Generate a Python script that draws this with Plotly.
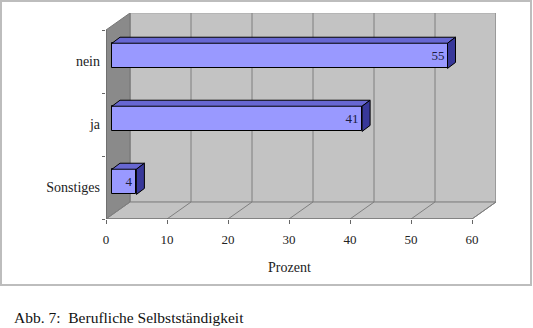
import plotly.graph_objects as go

# ---- data ----
categories = ["Sonstiges", "ja", "nein"]
values = [4, 41, 55]
x_ticks = [0, 10, 20, 30, 40, 50, 60]
x_title = "Prozent"
caption = "Abb. 7:  Berufliche Selbstständigkeit"

# ---- geometry ----
W, H = 533, 328
L, R, T, B = 106, 37, 13, 109
PW, PH = W - L - R, H - T - B
XMAX = 60
DX = PW / 6.1 - XMAX          # depth offset in x units
NCAT = len(categories)
YMIN = -0.5
DY = (PH - 63 * NCAT) / 63.0  # depth offset in y units
YMAX = NCAT - 0.5 + DY

B0 = 6 / 6.1        # bar front start
YOFF = 0.09          # bar front vertical offset (depth)
BW = 0.40            # bar thickness
BDX = 8 / 6.1        # bar depth in x
BDY = 6 / 63.0       # bar depth in y

FONT = "Liberation Serif"
WALL = "#C3C3C3"
SIDEWALL = "#8A8A8A"
GRID = "#7F7F7F"
FRONT = "#9999FF"
TOP = "#6767D2"
SIDE = "#38389A"


def xp(px):
    return (px - L) / PW


def yp(py):
    return (H - B - py) / PH


fig = go.Figure()

ypos = [i + YOFF for i in range(NCAT)]

# front faces
fig.add_trace(go.Bar(
    y=ypos, x=values, base=[B0] * NCAT, orientation="h", width=BW,
    marker=dict(color=FRONT, line=dict(color="black", width=1)),
    text=[str(v) for v in values], textposition="inside",
    insidetextanchor="end", textangle=0,
    textfont=dict(family=FONT, size=13, color="#1C1C40"),
    hoverinfo="skip", showlegend=False,
))

# top and side faces
for y, v in zip(ypos, values):
    x0, x1 = B0, B0 + v
    ytop, ybot = y + BW / 2, y - BW / 2
    fig.add_trace(go.Scatter(
        x=[x0, x1, x1 + BDX, x0 + BDX, x0],
        y=[ytop, ytop, ytop + BDY, ytop + BDY, ytop],
        mode="lines", fill="toself", fillcolor=TOP,
        line=dict(color="black", width=1), hoverinfo="skip", showlegend=False))
    fig.add_trace(go.Scatter(
        x=[x1, x1 + BDX, x1 + BDX, x1, x1],
        y=[ybot, ybot + BDY, ytop + BDY, ytop, ybot],
        mode="lines", fill="toself", fillcolor=SIDE,
        line=dict(color="black", width=1), hoverinfo="skip", showlegend=False))

shapes = []
# back wall
shapes.append(dict(type="rect", xref="x", yref="y", x0=DX, x1=XMAX + DX,
                   y0=YMIN + DY, y1=YMAX, fillcolor=WALL,
                   line=dict(color="#A8A8A8", width=1), layer="below"))
# left wall
shapes.append(dict(type="path", xref="x", yref="y",
                   path=f"M 0 {YMIN} L 0 {NCAT - 0.5} L {DX} {YMAX} L {DX} {YMIN + DY} Z",
                   fillcolor=SIDEWALL, line=dict(color="#777777", width=1), layer="below"))
# floor
shapes.append(dict(type="path", xref="x", yref="y",
                   path=f"M 0 {YMIN} L {XMAX} {YMIN} L {XMAX + DX} {YMIN + DY} L {DX} {YMIN + DY} Z",
                   fillcolor=WALL, line=dict(color=GRID, width=1), layer="below"))
# gridlines on back wall and floor
for v in x_ticks:
    shapes.append(dict(type="line", xref="x", yref="y", x0=v + DX, x1=v + DX,
                       y0=YMIN + DY, y1=YMAX, line=dict(color=GRID, width=1), layer="below"))
    shapes.append(dict(type="line", xref="x", yref="y", x0=v, x1=v + DX,
                       y0=YMIN, y1=YMIN + DY, line=dict(color=GRID, width=1), layer="below"))
# front floor edge (axis line) and left axis line
shapes.append(dict(type="line", xref="x", yref="y", x0=0, x1=XMAX, y0=YMIN, y1=YMIN,
                   line=dict(color="#666666", width=1.2), layer="below"))
shapes.append(dict(type="line", xref="x", yref="y", x0=0, x1=0, y0=YMIN, y1=NCAT - 0.5,
                   line=dict(color="#666666", width=1.2), layer="below"))
# outer frame
shapes.append(dict(type="rect", xref="paper", yref="paper",
                   x0=xp(1), x1=xp(531), y0=yp(285), y1=yp(1),
                   line=dict(color="#BDBDBD", width=2), fillcolor="rgba(0,0,0,0)",
                   layer="below"))

annotations = [
    dict(text=x_title, x=XMAX / 2, xref="x", y=yp(267), yref="paper",
         showarrow=False, xanchor="center", yanchor="middle",
         font=dict(family=FONT, size=14, color="#222222")),
    dict(text=caption, x=xp(12), xref="paper", y=yp(317), yref="paper",
         showarrow=False, xanchor="left", yanchor="middle",
         font=dict(family=FONT, size=15.5, color="#111111")),
]

fig.update_layout(
    width=W, height=H,
    margin=dict(l=L, r=R, t=T, b=B, pad=0),
    paper_bgcolor="white", plot_bgcolor="white",
    shapes=shapes, annotations=annotations,
    bargap=0, showlegend=False,
    xaxis=dict(range=[0, XMAX + DX], tickvals=x_ticks,
               ticktext=[str(v) for v in x_ticks],
               ticks="outside", ticklen=4, tickcolor="#666666",
               ticklabelstandoff=4,
               showgrid=False, zeroline=False, showline=False,
               tickfont=dict(family=FONT, size=13, color="#222222"), fixedrange=True),
    yaxis=dict(range=[YMIN, YMAX], tickvals=list(range(NCAT)), ticktext=categories,
               ticks="", showgrid=False, zeroline=False, showline=False,
               ticklabelstandoff=5,
               minor=dict(tick0=-0.5, dtick=1, ticks="outside", ticklen=3,
                          tickcolor="#666666", showgrid=False),
               tickfont=dict(family=FONT, size=14, color="#222222"), fixedrange=True),
)

fig.write_html("out.html")
